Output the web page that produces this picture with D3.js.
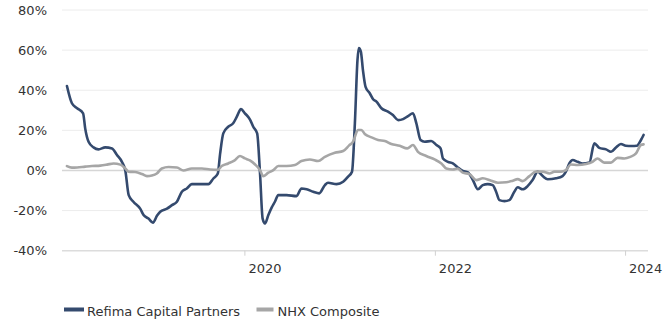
<!DOCTYPE html>
<html>
<head>
<meta charset="utf-8">
<script src="https://cdn.jsdelivr.net/npm/d3@7"></script>
<style>
  html, body { margin: 0; padding: 0; background: #fff; }
  svg { display: block; font-family: "DejaVu Sans", Verdana, sans-serif; }
</style>
</head>
<body>
<svg id="chart" width="666" height="324"></svg>
<script>
// Rolling one-year return, Refima Capital Partners
const refimaDates = [
  "2018-02-19","2018-03-10","2018-03-30","2018-04-22","2018-04-30","2018-05-13","2018-06-01","2018-06-20",
  "2018-07-16","2018-08-11","2018-08-30","2018-09-18","2018-10-01","2018-10-14","2018-11-01","2018-11-27",
  "2018-12-10","2018-12-29","2019-01-15","2019-01-31","2019-02-12","2019-03-10","2019-03-29","2019-04-17",
  "2019-05-06","2019-05-25","2019-06-13","2019-07-15","2019-08-16","2019-09-04","2019-09-21","2019-09-30",
  "2019-10-12","2019-10-31","2019-11-19","2019-12-03","2019-12-19","2020-01-03","2020-01-22","2020-02-04",
  "2020-02-19","2020-03-01","2020-03-11","2020-03-20","2020-04-02","2020-04-15","2020-04-27","2020-05-10",
  "2020-06-11","2020-07-19","2020-08-07","2020-08-27","2020-09-21","2020-10-14","2020-11-05","2020-11-17",
  "2020-12-20","2021-01-14","2021-02-02","2021-02-17","2021-02-28","2021-03-10","2021-03-15","2021-03-23",
  "2021-03-31","2021-04-10","2021-04-26","2021-05-09","2021-05-22","2021-06-10","2021-07-05","2021-07-24",
  "2021-08-13","2021-09-01","2021-09-20","2021-10-09","2021-10-22","2021-11-07","2021-11-23","2021-12-18",
  "2022-01-07","2022-01-23","2022-02-01","2022-02-20","2022-03-11","2022-03-30","2022-04-18","2022-05-08",
  "2022-05-27","2022-06-15","2022-07-04","2022-07-23","2022-08-11","2022-08-24","2022-09-06","2022-09-25",
  "2022-10-14","2022-11-02","2022-11-15","2022-12-04","2022-12-23","2023-01-11","2023-01-31","2023-02-19",
  "2023-03-10","2023-04-11","2023-05-06","2023-05-19","2023-06-01","2023-06-14","2023-07-03","2023-07-22",
  "2023-08-17","2023-09-05","2023-09-24","2023-10-20","2023-11-08","2023-11-27","2023-12-16","2024-01-04",
  "2024-01-26","2024-02-15","2024-03-02","2024-03-12"
];
const refimaValues = [
  42.1, 33.5, 31.0, 28.5, 21.0, 14.3, 11.5, 10.5,
  11.5, 11.0, 7.7, 4.3, 0.0, -12.3, -15.6, -19.0,
  -22.2, -24.0, -26.0, -22.5, -20.6, -19.0, -17.3, -15.6,
  -10.6, -9.0, -6.8, -6.8, -6.8, -4.0, -1.5, 8.5,
  18.5, 21.8, 23.5, 26.8, 30.6, 28.5, 25.5, 21.8,
  18.5, -1.5, -24.0, -26.4, -22.2, -18.4, -15.6, -12.3,
  -12.3, -12.8, -9.0, -9.4, -10.6, -11.4, -7.3, -6.1,
  -6.8, -5.6, -3.1, -0.6, 23.5, 55.0, 61.0, 59.3,
  50.0, 41.7, 38.5, 35.5, 34.3, 31.0, 29.3, 27.6,
  25.1, 25.6, 27.1, 28.5, 23.5, 15.2, 14.3, 14.7,
  12.7, 11.0, 6.0, 4.3, 3.5, 1.5, -0.2, -1.0,
  -4.8, -9.4, -7.3, -6.8, -7.3, -10.6, -14.8, -15.3,
  -14.8, -10.6, -8.4, -9.4, -7.8, -4.8, -0.6, -2.8,
  -4.4, -3.9, -2.8, -0.6, 3.5, 5.2, 4.3, 3.5,
  4.0, 13.5, 11.3, 10.5, 9.3, 11.5, 13.2, 12.3,
  12.2, 12.3, 15.2, 17.7
];

// Rolling one-year return, NHX Composite benchmark
const nhxDates = [
  "2018-02-19","2018-03-10","2018-03-30","2018-04-30","2018-05-26","2018-06-27","2018-07-23","2018-08-17",
  "2018-09-12","2018-10-01","2018-10-14","2018-11-08","2018-12-04","2018-12-23","2019-01-11","2019-01-30",
  "2019-02-18","2019-03-16","2019-04-17","2019-05-12","2019-06-13","2019-07-22","2019-08-22","2019-09-21",
  "2019-10-06","2019-10-31","2019-11-23","2019-12-15","2020-01-03","2020-01-22","2020-02-11","2020-03-01",
  "2020-03-13","2020-04-02","2020-04-21","2020-05-10","2020-06-11","2020-07-13","2020-08-07","2020-09-08",
  "2020-10-10","2020-11-05","2020-12-13","2021-01-14","2021-02-06","2021-02-21","2021-03-12","2021-03-25",
  "2021-04-07","2021-05-03","2021-05-28","2021-06-23","2021-07-18","2021-08-19","2021-09-17","2021-10-09",
  "2021-10-28","2021-11-29","2021-12-31","2022-01-26","2022-02-14","2022-03-11","2022-03-30","2022-04-18",
  "2022-05-14","2022-06-09","2022-07-04","2022-08-05","2022-08-31","2022-10-02","2022-10-27","2022-11-15",
  "2022-12-04","2022-12-30","2023-01-24","2023-02-19","2023-03-17","2023-04-05","2023-04-30","2023-05-19",
  "2023-06-07","2023-07-03","2023-08-04","2023-08-29","2023-09-17","2023-10-13","2023-11-08","2023-12-03",
  "2023-12-29","2024-01-21","2024-02-12","2024-03-02","2024-03-12"
];
const nhxValues = [
  2.2, 1.4, 1.5, 1.9, 2.2, 2.4, 2.9, 3.5,
  2.9, 1.0, -0.6, -0.8, -1.8, -2.8, -2.5, -1.5,
  1.0, 1.7, 1.5, 0.0, 1.0, 1.0, 0.5, 0.3,
  2.2, 3.5, 4.9, 7.2, 6.0, 5.0, 3.0, 0.2,
  -2.8, -1.1, 0.2, 2.2, 2.2, 2.7, 4.7, 5.5,
  4.7, 6.8, 8.8, 9.7, 12.5, 14.3, 20.2, 20.2,
  18.2, 16.5, 15.2, 14.7, 13.2, 12.3, 11.0, 12.7,
  9.3, 7.2, 5.5, 3.5, 1.0, 0.5, 1.0, -1.1,
  -1.8, -4.8, -3.9, -5.1, -6.1, -5.9, -5.1, -4.3,
  -5.3, -2.8, -0.6, -0.6, -1.5, -0.6, -0.6, 0.2,
  3.0, 2.7, 3.2, 4.3, 6.0, 3.9, 3.9, 6.3,
  6.0, 6.8, 8.5, 12.7, 13.0
];

const yTicks = [-40, -20, 0, 20, 40, 60, 80];
const xTickYears = ["2020", "2022", "2024"];
const seriesNames = ["Refima Capital Partners", "NHX Composite"];
const seriesColors = ["#344a6e", "#a6a6a6"];

const parse = d3.timeParse("%Y-%m-%d");
const refima = refimaDates.map((d, i) => ({ date: parse(d), value: refimaValues[i] }));
const nhx = nhxDates.map((d, i) => ({ date: parse(d), value: nhxValues[i] }));

const svg = d3.select("#chart");
const plot = { left: 62, right: 648, top: 10, bottom: 250.7 };

const x = d3.scaleTime()
  .domain([parse("2018-01-31"), parse("2024-03-29")])
  .range([plot.left, plot.right]);
const y = d3.scaleLinear()
  .domain([-40, 80])
  .range([plot.bottom, plot.top]);

// horizontal gridlines
svg.append("g")
  .selectAll("line")
  .data(yTicks)
  .join("line")
  .attr("x1", plot.left)
  .attr("x2", plot.right)
  .attr("y1", d => y(d))
  .attr("y2", d => y(d))
  .attr("stroke", d => d === 0 ? "#d6d6d6" : (d === -40 ? "#dcdcdc" : "#ececec"))
  .attr("stroke-width", d => (d === 0 || d === -40) ? 1.6 : 1);

// y axis labels
const yAxis = d3.axisLeft(y)
  .tickValues(yTicks)
  .tickFormat(d => d + "%")
  .tickSize(0)
  .tickPadding(0);
svg.append("g")
  .attr("transform", `translate(${47},0)`)
  .call(yAxis)
  .call(g => g.select(".domain").remove())
  .call(g => g.selectAll("text")
    .attr("font-size", 13)
    .attr("font-family", "DejaVu Sans, Verdana, sans-serif")
    .attr("fill", "#333"));

// x axis: ticks hang below the baseline, labels sit right of the tick
const xTicks = xTickYears.map(yr => parse(yr + "-01-01"));
const xAxis = d3.axisBottom(x)
  .tickValues(xTicks)
  .tickFormat(d3.timeFormat("%Y"))
  .tickSize(5)
  .tickPadding(0);
svg.append("g")
  .attr("transform", `translate(0,${plot.bottom})`)
  .call(xAxis)
  .call(g => g.select(".domain").remove())
  .call(g => g.selectAll(".tick line").attr("stroke", "#d0d0d0").attr("stroke-width", 1))
  .call(g => g.selectAll("text")
    .attr("text-anchor", "start")
    .attr("x", 3.5)
    .attr("y", 22)
    .attr("dy", 0)
    .attr("font-size", 13)
    .attr("font-family", "DejaVu Sans, Verdana, sans-serif")
    .attr("fill", "#333"));

const line = d3.line()
  .x(d => x(d.date))
  .y(d => y(d.value))
  .curve(d3.curveMonotoneX);

svg.append("path")
  .datum(refima)
  .attr("fill", "none")
  .attr("stroke", seriesColors[0])
  .attr("stroke-width", 2.6)
  .attr("stroke-linejoin", "round")
  .attr("stroke-linecap", "round")
  .attr("d", line);

svg.append("path")
  .datum(nhx)
  .attr("fill", "none")
  .attr("stroke", seriesColors[1])
  .attr("stroke-width", 2.6)
  .attr("stroke-linejoin", "round")
  .attr("stroke-linecap", "round")
  .attr("d", line);

// legend
const legendItems = [
  { x: 64, w: 20, textX: 87 },
  { x: 256.5, w: 17, textX: 277.5 }
];
const legend = svg.append("g");
legendItems.forEach((it, i) => {
  legend.append("rect")
    .attr("x", it.x).attr("y", 307.5)
    .attr("width", it.w).attr("height", 4)
    .attr("fill", seriesColors[i]);
  legend.append("text")
    .attr("x", it.textX).attr("y", 315.5)
    .attr("font-size", 13)
    .attr("fill", "#333")
    .text(seriesNames[i]);
});
</script>
</body>
</html>
